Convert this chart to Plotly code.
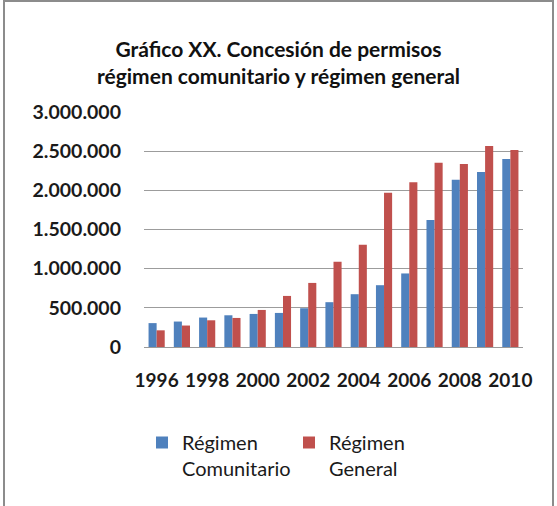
import plotly.graph_objects as go

years = list(range(1996, 2011))
comunitario = [305000, 325000, 376000, 405000, 422000, 435000, 495000, 572000,
               674000, 789000, 939000, 1620000, 2136000, 2234000, 2400000]
general = [213000, 274000, 341000, 371000, 473000, 652000, 818000, 1087000,
           1304000, 1969000, 2102000, 2353000, 2336000, 2566000, 2515000]
tick_years = [1996, 1998, 2000, 2002, 2004, 2006, 2008, 2010]
y_ticks = [0, 500000, 1000000, 1500000, 2000000, 2500000, 3000000]
y_labels = ["0", "500.000", "1.000.000", "1.500.000", "2.000.000", "2.500.000", "3.000.000"]

FONT = "Lato"

fig = go.Figure()
fig.add_trace(go.Bar(x=years, y=comunitario, name="Régimen<br>Comunitario",
                     marker=dict(color="#4F81BD", line=dict(width=0))))
fig.add_trace(go.Bar(x=years, y=general, name="Régimen<br>General",
                     marker=dict(color="#C0504D", line=dict(width=0))))

L, R, T, B = 144, 34, 112, 159
W, H = 557, 506
pw, ph = W - L - R, H - T - B

def px_x(x):
    return (x - L) / pw

def px_y(y):
    return (H - B - y) / ph

fig.update_layout(
    width=W, height=H,
    margin=dict(l=L, r=R, t=T, b=B),
    paper_bgcolor="white", plot_bgcolor="white",
    barmode="group", bargap=0.36, bargroupgap=0,
    font=dict(family=FONT, color="#262626"),
    title=dict(text="<b>Gráfico XX. Concesión de permisos<br>régimen comunitario y régimen general</b>",
               x=0.5, xref="container", xanchor="center",
               y=1 - 57 / H, yref="container", yanchor="middle",
               font=dict(family=FONT, size=21, color="#111111")),
    xaxis=dict(range=[1995.5, 2010.5], tickmode="array", tickvals=tick_years,
               ticktext=[f"<b>{y}</b>" for y in tick_years],
               tickfont=dict(size=19, family=FONT, color="#1a1a1a"), tickangle=0,
               showgrid=False, showline=True, linecolor="#9a9a9a", linewidth=1,
               ticks="", ticklabelstandoff=16, zeroline=False, automargin=False),
    yaxis=dict(range=[0, 3000000], tickmode="array", tickvals=y_ticks,
               ticktext=[f"<b>{t}</b>" for t in y_labels],
               tickfont=dict(size=19.5, family=FONT, color="#1a1a1a"),
               showgrid=True, gridcolor="#9c9c9c", gridwidth=1,
               showline=False, ticks="", ticklabelstandoff=22, zeroline=False,
               automargin=False),
    legend=dict(orientation="h", x=px_x(142), y=px_y(423), xanchor="left", yanchor="top",
                font=dict(size=20, family=FONT, color="#1a1a1a"), valign="top",
                entrywidth=102, entrywidthmode="pixels", itemclick=False),
    showlegend=True,
    shapes=[dict(type="rect", xref="paper", yref="paper",
                 x0=px_x(4), x1=px_x(553), y0=px_y(520), y1=px_y(1),
                 line=dict(color="#8c8c8c", width=2), fillcolor="rgba(0,0,0,0)", layer="above")],
)

fig.write_html("out.html", config={"displayModeBar": False},
               post_script="document.body.style.margin='0';")
